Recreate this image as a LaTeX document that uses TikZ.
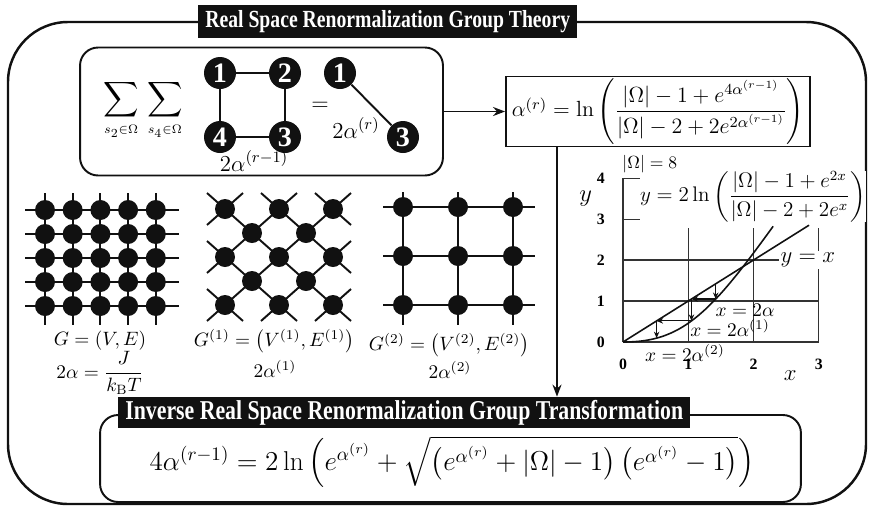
\RequirePackage{fix-cm}
\documentclass[tikz,border=0pt]{standalone}
\usepackage{amsmath,amssymb}
\usepackage{fontspec}
\newfontfamily\headfont{Liberation Serif}
\usetikzlibrary{arrows.meta,positioning,calc}
\definecolor{inkc}{HTML}{111111}
\definecolor{gridc}{HTML}{333333}
\newcommand{\eqsize}[1]{\fontsize{#1}{#1}\selectfont}
\newcommand{\narrow}[1]{\scalebox{0.8}[1]{#1}}

\begin{document}
\begin{tikzpicture}[x=0.02cm,y=-0.02cm,
  frame/.style={draw=inkc,line width=1.4pt,rounded corners=1.2cm},
  panel/.style={draw=inkc,line width=1.1pt,rounded corners=0.36cm,inner sep=0pt},
  banner/.style={fill=inkc,text=white,anchor=west,inner xsep=4pt,inner ysep=0pt},
  spin/.style={circle,fill=inkc,text=white,minimum size=0.64cm,inner sep=0pt,
               font=\headfont\bfseries\eqsize{16}},
  site/.style={circle,fill=inkc,minimum size=0.4cm,inner sep=0pt},
  bond/.style={draw=inkc,line width=1.1pt},
  gline/.style={draw=gridc,line width=0.6pt},
  curve/.style={draw=inkc,line width=0.9pt},
  ar/.style={-{Stealth[length=2.4mm,width=1.8mm]},draw=inkc,line width=1.1pt},
  hop/.style={-{Stealth[length=1.3mm,width=1.1mm]},draw=inkc,line width=0.6pt},
  tick/.style={inner sep=0pt,font=\headfont\bfseries\eqsize{9}},
  lbl/.style={inner sep=1pt,font=\eqsize{11}},
]
\useasboundingbox (0,0) rectangle (872,508);

% outer frame and heading
\draw[frame] (8,22) rectangle (866,504);
\node[banner,minimum height=0.66cm,font=\headfont\bfseries\eqsize{14}] (title)
  at (198,21.5) {\narrow{Real Space Renormalization Group Theory}};

% decimation of spins 2 and 4
\node[panel,minimum width=7.26cm,minimum height=2.56cm] (sumbox) at (261.5,111.5) {};
\node[font=\eqsize{14}] (sums) at (143,110)
  {$\displaystyle\sum_{\scriptscriptstyle s_2\in\Omega}\,\sum_{\scriptscriptstyle s_4\in\Omega}$};
\node[spin] (s1) at (220,73) {1};
\node[spin] (s2) at (285,73) {2};
\node[spin] (s3) at (285,137) {3};
\node[spin] (s4) at (220,137) {4};
\draw[bond] (s1) -- (s2) -- (s3) -- (s4) -- (s1);
\node[font=\eqsize{13}] (wold) at (254,161) {$2\alpha^{(r-1)}$};
\node[font=\eqsize{13}] (equal) at (320,106) {$=$};
\node[spin] (t1) at (340,73) {1};
\node[spin] (t3) at (403,137) {3};
\draw[bond] (t1) -- (t3);
\node[font=\eqsize{13}] (wnew) at (356,128) {$2\alpha^{(r)}$};

\node[draw=inkc,line width=1.1pt,minimum width=6.08cm,minimum height=1.4cm,
      inner sep=0pt,font=\eqsize{12.5}] (fbox) at (658,111.5)
  {$\alpha^{(r)}=\ln\left(\dfrac{|\Omega|-1+e^{4\alpha^{(r-1)}}}{|\Omega|-2+2e^{2\alpha^{(r-1)}}}\right)$};
\draw[ar] (sumbox) -- (fbox);

% square lattice G
\foreach \i in {1,...,5}
  \foreach \j in {1,...,5}
    \node[site] (a-\i-\j) at ({45+27.7*(\i-1)},{210+24*(\j-1)}) {};
\foreach \k in {1,...,5}{
  \draw[bond] ([xshift=-0.4cm]a-1-\k.center) -- ([xshift=0.46cm]a-5-\k.center);
  \draw[bond] ([yshift=0.34cm]a-\k-1.center) -- ([yshift=-0.38cm]a-\k-5.center);
}
\node[lbl] (g0) at (100,341) {$G=(V,E)$};
\node[lbl] (w0) at (100,373) {$2\alpha=\dfrac{J}{k_{\mathrm{B}}T}$};

% first decimation G^(1)
\foreach \i/\j in {0/0,2/0,4/0,1/1,3/1,0/2,2/2,4/2,1/3,3/3,0/4,2/4,4/4}
  \node[site] (b-\i-\j) at ({225+27*\i},{209+24*\j}) {};
\foreach \p/\q in {0-0/4-4,2-0/4-2,4-0/4-0,0-2/2-4,0-4/0-4}
  \draw[bond] ([shift={(-0.36cm,0.32cm)}]b-\p.center) -- ([shift={(0.36cm,-0.32cm)}]b-\q.center);
\foreach \p/\q in {0-0/0-0,0-2/2-0,0-4/4-0,2-4/4-2,4-4/4-4}
  \draw[bond] ([shift={(-0.36cm,-0.32cm)}]b-\p.center) -- ([shift={(0.36cm,0.32cm)}]b-\q.center);
\node[lbl] (g1) at (274,341) {$G^{(1)}=\bigl(V^{(1)},E^{(1)}\bigr)$};
\node[lbl] (w1) at (275,369) {$2\alpha^{(1)}$};

% second decimation G^(2)
\foreach \i in {0,1,2}
  \foreach \j in {0,1,2}
    \node[site] (c-\i-\j) at ({403+55*\i},{207+49*\j}) {};
\foreach \k in {0,1,2}{
  \draw[bond] ([xshift=-0.4cm]c-0-\k.center) -- ([xshift=0.44cm]c-2-\k.center);
  \draw[bond] ([yshift=0.3cm]c-\k-0.center) -- ([yshift=-0.4cm]c-\k-2.center);
}
\node[lbl] (g2) at (449,345) {$G^{(2)}=\bigl(V^{(2)},E^{(2)}\bigr)$};
\node[lbl] (w2) at (450,370) {$2\alpha^{(2)}$};

% flow of the coupling, |Omega| = 8
\begin{scope}[shift={(623,342)},x=1.306cm,y=0.82cm]
  \draw[gline] (0,0) -- (3,0) (0,1) -- (3,1) (0,2) -- (2.6,2)
               (0,3) -- (0.3,3) (0,4) -- (0.3,4) (0,0) -- (0,4);
  \foreach \k in {1,2,3}
    \draw[gline] (\k,0) -- (\k,2.78);
  \draw[curve] (0,0) -- (2.85,2.85);
  \draw[curve] plot[domain=0:2.3,samples=60,smooth]
    (\x,{2*ln((7+exp(2*\x))/(6+2*exp(\x)))});
  \foreach \a/\b/\c/\d in {1.42/1.42/1.42/1.049, 1.42/1.049/1.049/1.049,
                           1.049/1.049/1.049/0.515, 1.049/0.515/0.515/0.515,
                           0.515/0.515/0.515/0.095}
    \draw[hop] (\a,\b) -- (\c,\d);
  \foreach \k in {0,...,4}
    \node[tick] (yt\k) at (-0.34,\k) {\k};
  \foreach \k in {0,...,3}
    \node[tick] (xt\k) at (\k,-0.55) {\k};
  \node[font=\eqsize{14}] (ylab) at (-0.57,3.49) {$y$};
  \node[font=\eqsize{13}] (xlab) at (2.56,-0.83) {$x$};
  \node[fill=white,inner sep=0pt,font=\eqsize{12}] (curvelbl) at (1.99,3.55)
    {$y=2\ln\left(\dfrac{|\Omega|-1+e^{2x}}{|\Omega|-2+2e^{x}}\right)$};
  \node[inner sep=0pt,font=\eqsize{10}] (omega) at (0.41,4.33) {$|\Omega|=8$};
  \node[fill=white,inner sep=1pt,font=\eqsize{13}] (diag) at (2.83,2.0) {$y=x$};
  \node[lbl] (x0) at (1.87,0.78) {$x=2\alpha$};
  \node[lbl] (x1) at (1.64,0.34) {$x=2\alpha^{(1)}$};
  \node[lbl] (x2) at (0.95,-0.27) {$x=2\alpha^{(2)}$};
\end{scope}

% inverse transformation
\node[panel,minimum width=14.02cm,minimum height=1.74cm] (invbox) at (450.5,458.5) {};
\node[banner,minimum height=0.62cm,font=\headfont\bfseries\eqsize{15.5}] (invtitle)
  at (118,412.5) {\narrow{Inverse Real Space Renormalization Group Transformation}};
\node[font=\eqsize{15.5}] (inveq) at (452,462)
  {$4\alpha^{(r-1)}=2\ln\left(e^{\alpha^{(r)}}+\sqrt{\left(e^{\alpha^{(r)}}+|\Omega|-1\right)\left(e^{\alpha^{(r)}}-1\right)}\right)$};
\coordinate (drop) at (557,0);
\draw[ar] (fbox.south -| drop) -- (invtitle.north -| drop);
\end{tikzpicture}
\end{document}
